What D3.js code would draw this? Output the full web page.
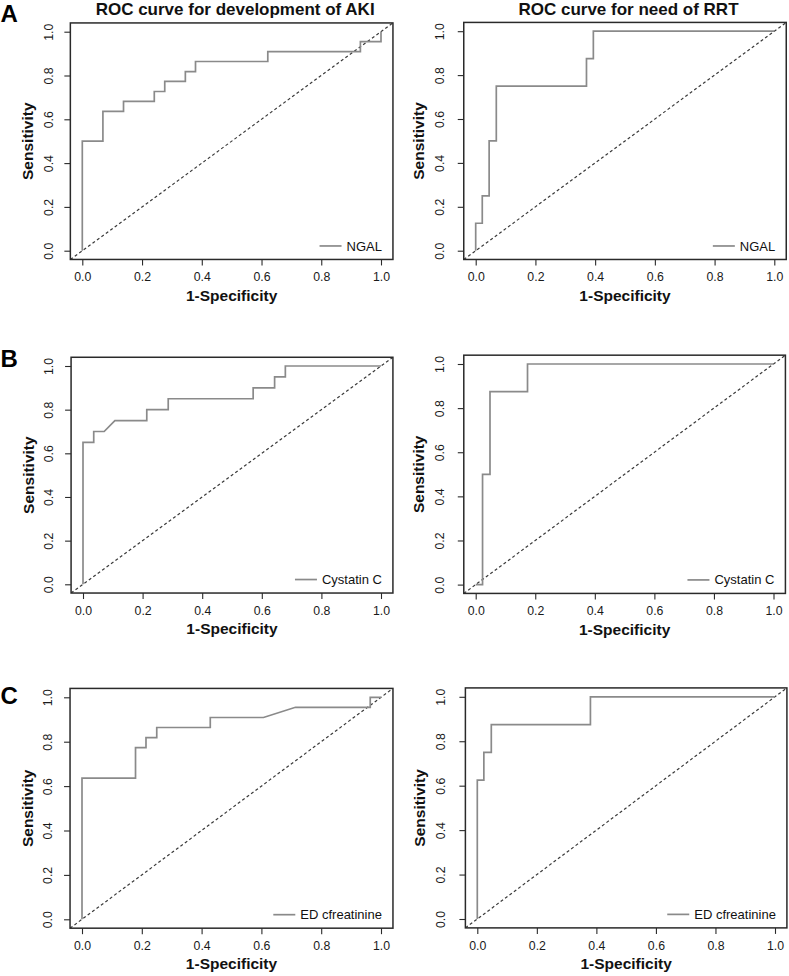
<!DOCTYPE html>
<html>
<head>
<meta charset="utf-8">
<script src="https://cdn.jsdelivr.net/npm/d3@7"></script>
<style>
  html, body { margin: 0; padding: 0; background: #fff; }
  svg { display: block; font-family: "Liberation Sans", Arial, Helvetica, sans-serif; }
</style>
</head>
<body>
<svg id="chart" width="789" height="976"></svg>
<script>
// ---------- data ----------
const columnTitles = ["ROC curve for development of AKI", "ROC curve for need of RRT"];
const rowLetters = ["A", "B", "C"];
const markers = ["NGAL", "Cystatin C", "ED cfreatinine"];
const tickValues = [0, 0.2, 0.4, 0.6, 0.8, 1.0];
const xAxisTitle = "1-Specificity";
const yAxisTitle = "Sensitivity";

// AKI (left column)
const fprAkiNgal = [0, 0, 0.069, 0.069, 0.138, 0.138, 0.241, 0.241, 0.276, 0.276, 0.345, 0.345, 0.379, 0.379, 0.621, 0.621, 0.931, 0.931, 1, 1];
const tprAkiNgal = [0, 0.5, 0.5, 0.636, 0.636, 0.682, 0.682, 0.727, 0.727, 0.773, 0.773, 0.818, 0.818, 0.864, 0.864, 0.909, 0.909, 0.955, 0.955, 1];

const fprAkiCys = [0, 0, 0.036, 0.036, 0.071, 0.107, 0.214, 0.214, 0.286, 0.286, 0.571, 0.571, 0.643, 0.643, 0.679, 0.679, 1];
const tprAkiCys = [0, 0.65, 0.65, 0.7, 0.7, 0.75, 0.75, 0.8, 0.8, 0.85, 0.85, 0.9, 0.9, 0.95, 0.95, 1, 1];

const fprAkiCr = [0, 0, 0.179, 0.179, 0.214, 0.214, 0.25, 0.25, 0.429, 0.429, 0.607, 0.714, 0.964, 0.964, 1];
const tprAkiCr = [0, 0.636, 0.636, 0.773, 0.773, 0.818, 0.818, 0.864, 0.864, 0.909, 0.909, 0.955, 0.955, 1, 1];

// RRT (right column)
const fprRrtNgal = [0, 0, 0.022, 0.022, 0.045, 0.045, 0.069, 0.069, 0.371, 0.371, 0.394, 0.394, 1];
const tprRrtNgal = [0, 0.125, 0.125, 0.25, 0.25, 0.5, 0.5, 0.75, 0.75, 0.875, 0.875, 1, 1];

const fprRrtCys = [0, 0.023, 0.023, 0.048, 0.048, 0.174, 0.174, 1];
const tprRrtCys = [0, 0, 0.5, 0.5, 0.875, 0.875, 1, 1];

const fprRrtCr = [0, 0, 0.022, 0.022, 0.047, 0.047, 0.38, 0.38, 1];
const tprRrtCr = [0, 0.625, 0.625, 0.75, 0.75, 0.875, 0.875, 1, 1];

const curves = [
  [[fprAkiNgal, tprAkiNgal], [fprRrtNgal, tprRrtNgal]],
  [[fprAkiCys, tprAkiCys], [fprRrtCys, tprRrtCys]],
  [[fprAkiCr, tprAkiCr], [fprRrtCr, tprRrtCr]]
];

// ---------- layout (pixel positions of x=0, x=1, y=0, y=1 per panel) ----------
const panelLayout = [
  [{x0: 82.3, x1: 381, y0: 250.7, y1: 31.7}, {x0: 475.7, x1: 774.3, y0: 250.7, y1: 31.2}],
  [{x0: 83, x1: 381, y0: 584.3, y1: 366}, {x0: 475.7, x1: 773.5, y0: 584.6, y1: 364}],
  [{x0: 82, x1: 381, y0: 919.3, y1: 697.3}, {x0: 477.3, x1: 775, y0: 919, y1: 696.8}]
];
const letterBaselines = [21.5, 367, 704];
const colYLabelOffset = [34, 36.5];
const colYTitleOffset = [49, 52];

const svg = d3.select("#chart");
const curveColor = "#8a8a8a";
const frameColor = "#2a2a2a";

svg.append("defs").selectAll("clipPath")
  .data(d3.range(6)).enter().append("clipPath")
  .attr("id", d => "clip" + d);

panelLayout.forEach((row, r) => {
  row.forEach((L, c) => {
    const x = d3.scaleLinear().domain([0, 1]).range([L.x0, L.x1]);
    const y = d3.scaleLinear().domain([0, 1]).range([L.y0, L.y1]);
    const left = x(-0.04), right = x(1.04), top = y(1.04), bottom = y(-0.04);
    const g = svg.append("g");
    const id = r * 2 + c;
    svg.select("#clip" + id).append("rect")
      .attr("x", left).attr("y", top).attr("width", right - left).attr("height", bottom - top);

    // x axis
    const xa = g.append("g").attr("transform", `translate(0,${bottom})`)
      .call(d3.axisBottom(x).tickValues(tickValues).tickFormat(d3.format(".1f")).tickSize(6).tickPadding(7));
    xa.select(".domain").remove();
    xa.selectAll("line").attr("stroke", frameColor).attr("stroke-width", 1.1);
    xa.selectAll("text").attr("font-size", 12.3).attr("fill", "#1a1a1a").attr("font-family", null);

    // y axis
    const ya = g.append("g").attr("transform", `translate(${left},0)`)
      .call(d3.axisLeft(y).tickValues(tickValues).tickFormat(d3.format(".1f")).tickSize(6));
    ya.select(".domain").remove();
    ya.selectAll("line").attr("stroke", frameColor).attr("stroke-width", 1.1);
    ya.selectAll("text")
      .attr("font-size", 12.3).attr("fill", "#1a1a1a").attr("font-family", null)
      .attr("x", 0).attr("dy", "0.35em").attr("text-anchor", "middle")
      .attr("transform", `translate(${-(colYLabelOffset[c] - (L.x0 - left))},0) rotate(-90)`);

    // diagonal reference
    g.append("line")
      .attr("clip-path", `url(#clip${id})`)
      .attr("x1", x(-0.04)).attr("y1", y(-0.04)).attr("x2", x(1.04)).attr("y2", y(1.04))
      .attr("stroke", "#3a3a3a").attr("stroke-width", 1.2).attr("stroke-dasharray", "3,2.5");

    // ROC curve
    const [fpr, tpr] = curves[r][c];
    const pts = fpr.map((v, i) => [v, tpr[i]]);
    g.append("path")
      .attr("d", d3.line().x(d => x(d[0])).y(d => y(d[1]))(pts))
      .attr("fill", "none").attr("stroke", curveColor).attr("stroke-width", 1.7)
      .attr("stroke-linejoin", "miter");

    // frame
    g.append("rect")
      .attr("x", left).attr("y", top).attr("width", right - left).attr("height", bottom - top)
      .attr("fill", "none").attr("stroke", frameColor).attr("stroke-width", 1.5);

    // legend (bottom right)
    const legTextRight = right - 11;
    const legY = bottom - 13.5;
    const lt = g.append("text")
      .attr("x", legTextRight).attr("y", legY).attr("dy", "0.35em")
      .attr("text-anchor", "end").attr("font-size", 13).attr("fill", "#111")
      .text(markers[r]);
    const tw = lt.node().getComputedTextLength();
    g.append("line")
      .attr("x1", legTextRight - tw - 27).attr("x2", legTextRight - tw - 5)
      .attr("y1", legY).attr("y2", legY)
      .attr("stroke", curveColor).attr("stroke-width", 1.7);

    // axis titles
    g.append("text")
      .attr("x", (L.x0 + L.x1) / 2).attr("y", L.y0 + 50)
      .attr("text-anchor", "middle").attr("font-size", 15.5).attr("font-weight", "bold").attr("fill", "#111")
      .text(xAxisTitle);
    g.append("text")
      .attr("transform", `translate(${L.x0 - colYTitleOffset[c]},${(L.y0 + L.y1) / 2}) rotate(-90)`)
      .attr("text-anchor", "middle").attr("font-size", 15.5).attr("font-weight", "bold").attr("fill", "#111")
      .text(yAxisTitle);

    // column titles (top row only)
    if (r === 0) {
      g.append("text")
        .attr("x", (L.x0 + L.x1) / 2 + 3.5).attr("y", L.y1 - 16.5)
        .attr("text-anchor", "middle").attr("font-size", 17).attr("font-weight", "bold").attr("fill", "#111")
        .text(columnTitles[c]);
    }
  });

  svg.append("text")
    .attr("x", 0.5).attr("y", letterBaselines[r])
    .attr("font-size", 24).attr("font-weight", "bold").attr("fill", "#000")
    .text(rowLetters[r]);
});
</script>
</body>
</html>
